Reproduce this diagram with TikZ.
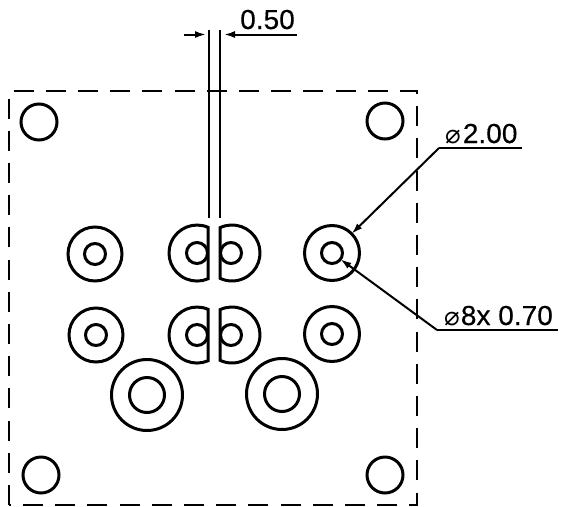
\documentclass[tikz,border=0pt]{standalone}
\usepackage{fontspec}
\setmainfont{Liberation Sans}
\newfontfamily\dimfont[FakeStretch=1.02,FakeBold=0.4]{Liberation Sans}
\newfontfamily\symfont{DejaVu Sans}
\usetikzlibrary{arrows.meta}
\newcommand{\dia}{{\symfont\fontsize{26}{26}\selectfont ⌀}}
\tikzset{
  x=1pt,y=-1pt,
  hole/.style={circle,draw=black,line width=3pt,inner sep=0pt,outer sep=0pt,minimum size=#1},
  half/.style={draw=black,line width=3pt,line join=miter},
  border/.style={draw=black,line width=2.6pt,dash pattern=on 20pt off 12.2pt},
  thin line/.style={draw=black,line width=2pt},
  leader/.style={draw=black,line width=2pt,-{Latex[length=11pt,width=7pt]}},
  dimtext/.style={inner sep=0pt,anchor=base west,font=\dimfont\fontsize{27.5}{27.5}\selectfont,text=black},
  rule line/.style={draw=black,line width=2pt}
}
\begin{document}
\begin{tikzpicture}
\useasboundingbox (0,0) rectangle (561,506);
\path[border] (9,505) -- (9,91) -- (417,91) -- (417,505) -- cycle;
% corner holes
\node[hole=36pt] (c1) at (39,122) {};
\node[hole=36pt] (c2) at (385,121) {};
\node[hole=36pt] (c3) at (41,475) {};
\node[hole=36pt] (c4) at (385,475) {};
% outer pads
\node[hole=54pt] (p1) at (95,254) {};
\node[hole=21pt] (p1i) at (95,254) {};
\node[hole=55pt] (p2) at (332,253) {};
\node[hole=21pt] (p2i) at (332,253) {};
\node[hole=54pt] (p3) at (96,335) {};
\node[hole=21pt] (p3i) at (96,335) {};
\node[hole=55pt] (p4) at (332,334) {};
\node[hole=21pt] (p4i) at (332,334) {};
% big pads
\node[hole=71pt] (b1) at (147,395) {};
\node[hole=35pt] (b1i) at (147,395) {};
\node[hole=71pt] (b2) at (282,394) {};
\node[hole=35pt] (b2i) at (282,394) {};
% half pads
\path[half] (208,227.3) arc[start angle=-66.9,end angle=-293.1,radius=28] -- cycle;
\path[half] (220,227.7) arc[start angle=-115.4,end angle=115.4,radius=28] -- cycle;
\path[half] (208,309.3) arc[start angle=-66.9,end angle=-293.1,radius=28] -- cycle;
\path[half] (220,309.7) arc[start angle=-115.4,end angle=115.4,radius=28] -- cycle;
\node[hole=21pt] (h1) at (197,253) {};
\node[hole=21pt] (h2) at (231,253) {};
\node[hole=21pt] (h3) at (197,335) {};
\node[hole=21pt] (h4) at (231,335) {};
% 0.50 dimension
\coordinate (e1t) at (209,30);
\coordinate (e1b) at (209,218);
\coordinate (e2t) at (220,30);
\coordinate (e2b) at (220,218);
\path[thin line] (e1t) -- (e1b);
\path[thin line] (e2t) -- (e2b);
\coordinate (d1s) at (184,34.5);
\coordinate (d1e) at (206,34.5);
\coordinate (d2s) at (297,34.5);
\coordinate (d2e) at (224,34.5);
\path[leader] (d1s) -- (d1e);
\path[leader] (d2s) -- (d2e);
\node[dimtext] (t1) at (240,29) {0.50};
% 2.00 leader
\coordinate (l1) at (439,148);
\coordinate (l1e) at (522,148);
\path[rule line] (l1e) -- (l1);
\path[leader] (l1) -- (p2);
\node[dimtext] (t2) at (445,143) {\dia\hspace{2pt}2.00};
% 0.70 leader
\coordinate (l2) at (437,330);
\coordinate (l2e) at (558,330);
\path[rule line] (l2e) -- (l2);
\path[leader] (l2) -- (p2i);
\node[dimtext] (t3) at (444,325) {\dia\hspace{1pt}8x 0.70};
\end{tikzpicture}
\end{document}
